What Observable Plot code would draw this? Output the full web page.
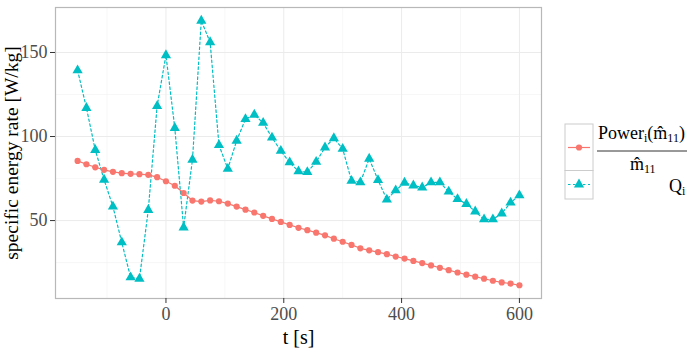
<!DOCTYPE html>
<html>
<head>
<meta charset="utf-8">
<script src="https://cdn.jsdelivr.net/npm/d3@7"></script>
<script src="https://cdn.jsdelivr.net/npm/@observablehq/plot@0.6"></script>
<style>
  html, body { margin: 0; padding: 0; background: #fff; }
  #wrap { position: relative; width: 687px; height: 350px; overflow: hidden; font-family: 'Liberation Serif', serif; }
  #wrap svg.plot { position: absolute; left: 0; top: 0; }
  .lg { position: absolute; color: #000; font-size: 18px; white-space: nowrap; line-height: 1; font-family: 'Liberation Serif', serif; }
  .lg sub { font-size: 12px; vertical-align: -3px; }
</style>
</head>
<body>
<div id="wrap"></div>
<script>
const t = [-150,-135,-120,-105,-90,-75,-60,-45,-30,-15,0,15,30,45,60,75,90,105,120,135,150,165,180,195,210,225,240,255,270,285,300,315,330,345,360,375,390,405,420,435,450,465,480,495,510,525,540,555,570,585,600];
const power = [85.5,83.5,81.7,80.2,79.0,78.2,77.8,77.6,77.2,75.8,73.4,70.7,66.4,61.9,61.3,62.0,61.5,60.1,58.3,56.5,54.8,52.8,51.0,49.2,47.4,45.7,44.3,42.8,41.2,39.2,37.4,35.5,33.5,32.3,31.2,30.0,28.6,27.4,26.0,24.7,23.3,21.9,20.5,19.1,17.8,16.6,15.4,14.2,13.2,12.5,11.5];
const q = [139.4,117,92,74.3,58.3,37,16.2,15.4,56.3,118.1,148.4,105.1,45.9,86.2,168.9,156.1,94.9,80.8,97.5,110.4,113,108.1,99.4,91.5,84.6,79.3,78.8,84.9,93.5,99,92.7,73.6,72.7,86.8,74.1,62.5,68,72.5,70.9,69.7,72.7,72.7,67.2,62.8,59.9,55.4,50.7,50.7,54.2,60.7,65];
const xTicks = [0,200,400,600];
const xMinor = [-100,100,300,500];
const yTicks = [50,100,150];
const yMinor = [25,75,125];
const colors = ["#F8766D", "#00BFC4"];
const FONT = "'Liberation Serif', serif";

const rowsP = t.map((x, i) => ({t: x, v: power[i]}));
const rowsQ = t.map((x, i) => ({t: x, v: q[i]}));

function expand(lo, hi) { const r = hi - lo; return [lo - 0.05 * r, hi + 0.05 * r]; }
const xDom = expand(d3.min(t), d3.max(t));
const yDom = expand(d3.min(power.concat(q)), d3.max(power.concat(q)));
const triR = 3.8;

const chart = Plot.plot({
  width: 687, height: 350,
  marginLeft: 55, marginTop: 7, marginRight: 146, marginBottom: 52,
  style: {fontFamily: FONT, fontSize: "18px", background: "#fff", color: "#4d4d4d"},
  x: {domain: xDom},
  y: {domain: yDom},
  marks: [
    Plot.gridX(xMinor, {stroke: "#f2f2f2", strokeOpacity: 1, strokeWidth: 0.6}),
    Plot.gridY(yMinor, {stroke: "#f2f2f2", strokeOpacity: 1, strokeWidth: 0.6}),
    Plot.gridX(xTicks, {stroke: "#ebebeb", strokeOpacity: 1, strokeWidth: 1}),
    Plot.gridY(yTicks, {stroke: "#ebebeb", strokeOpacity: 1, strokeWidth: 1}),
    Plot.line(rowsQ, {x: "t", y: "v", stroke: colors[1], strokeWidth: 1.2, strokeDasharray: "2.5,2.5"}),
    Plot.dot(rowsQ, {x: "t", y: "v", fill: colors[1], symbol: "triangle", r: triR}),
    Plot.line(rowsP, {x: "t", y: "v", stroke: colors[0], strokeWidth: 1.2}),
    Plot.dot(rowsP, {x: "t", y: "v", fill: colors[0], r: 3.1}),
    Plot.frame({stroke: "#b8b8b8", strokeWidth: 1.2}),
    Plot.axisX({ticks: xTicks, tickSize: 5, tickPadding: 4, label: null, stroke: "#333", fontFamily: FONT, fontSize: 18}),
    Plot.axisY({ticks: yTicks, tickSize: 5, tickPadding: 3, label: null, stroke: "#333", fontFamily: FONT, fontSize: 18}),
    Plot.text(["t [s]"], {frameAnchor: "bottom", lineAnchor: "middle", dy: 39, fontSize: 20, fill: "#000", fontFamily: FONT}),
    Plot.text(["specific energy rate [W/kg]"], {frameAnchor: "left", textAnchor: "middle", rotate: -90, dx: -44, fontSize: 19.5, fill: "#000", fontFamily: FONT})
  ]
});
chart.classList.add("plot");
chart.setAttribute("font-family", FONT);
chart.querySelectorAll("text").forEach(el => el.style.fontFamily = FONT);
const wrap = document.getElementById("wrap");
wrap.appendChild(chart);

// legend
const ns = "http://www.w3.org/2000/svg";
const lsvg = document.createElementNS(ns, "svg");
lsvg.setAttribute("width", 687); lsvg.setAttribute("height", 350);
lsvg.style.position = "absolute"; lsvg.style.left = "0"; lsvg.style.top = "0";
lsvg.innerHTML = `
  <rect x="565" y="124" width="28" height="46.5" fill="#fff" stroke="#cccccc" stroke-width="1"/>
  <rect x="565" y="170.5" width="28" height="28.5" fill="#fff" stroke="#cccccc" stroke-width="1"/>
  <line x1="568" x2="590" y1="147.5" y2="147.5" stroke="${colors[0]}" stroke-width="1.2"/>
  <circle cx="579" cy="147.5" r="3.1" fill="${colors[0]}"/>
  <line x1="568" x2="590" y1="184.5" y2="184.5" stroke="${colors[1]}" stroke-width="1.2" stroke-dasharray="2.5,2.5"/>
  <path transform="translate(579,184.5)" d="${d3.symbol(d3.symbolTriangle, Math.PI*triR*triR)()}" fill="${colors[1]}"/>
  <line x1="597" x2="687" y1="151" y2="151" stroke="#333" stroke-width="1"/>
`;
wrap.appendChild(lsvg);

function addLabel(html, left, top) {
  const d = document.createElement("div");
  d.className = "lg"; d.innerHTML = html;
  d.style.left = left + "px"; d.style.top = top + "px";
  wrap.appendChild(d);
}
addLabel("Power<sub>i</sub>(m&#770;<sub>11</sub>)", 598, 124);
addLabel("m&#770;<sub>11</sub>", 630, 155);
addLabel("Q<sub>i</sub>", 669, 177);
</script>
</body>
</html>
